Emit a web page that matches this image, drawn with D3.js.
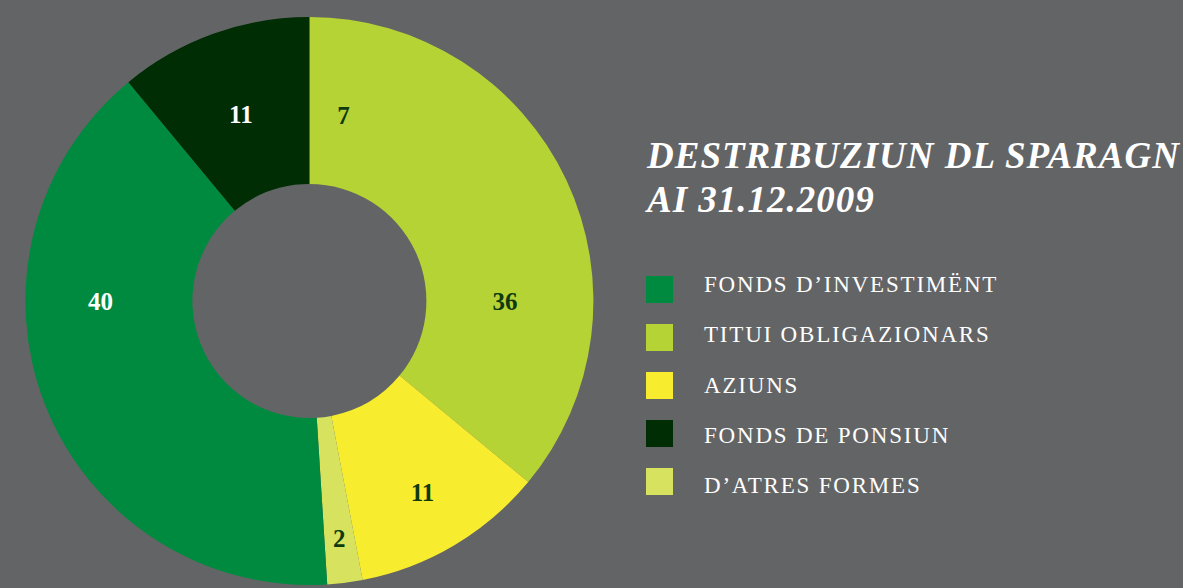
<!DOCTYPE html>
<html>
<head>
<meta charset="utf-8">
<script src="https://cdn.jsdelivr.net/npm/d3@7"></script>
<style>
  html, body { margin: 0; padding: 0; background: #636466; }
  svg { display: block; }
</style>
</head>
<body>
<svg id="chart" width="1183" height="588"></svg>
<script>
// ---- data ----
const categories = ["TITUI OBLIGAZIONARS", "AZIUNS", "D’ATRES FORMES", "FONDS D’INVESTIMËNT", "FONDS DE PONSIUN"];
const values = [36, 11, 2, 40, 11];
const sliceColors = ["#b6d335", "#f8ec2f", "#d7e35e", "#008a3f", "#002d04"];
const legendOrder = ["FONDS D’INVESTIMËNT", "TITUI OBLIGAZIONARS", "AZIUNS", "FONDS DE PONSIUN", "D’ATRES FORMES"];
const titleLines = ["DESTRIBUZIUN DL SPARAGN", "AI 31.12.2009"];
// printed labels (text, position along the ring in % of total, white or dark)
const labelTexts = ["7", "36", "11", "2", "40", "11"];
const labelAtPercent = [2.9, 25, 41.5, 48, 75, 94.4];
const labelRingFrac = [0.43, 0.47, 0.63, 0.73, 0.55, 0.49];
const labelLight = [false, false, false, false, true, true];

// ---- layout ----
const svg = d3.select("#chart");
const cx = 309.4, cy = 301, outerR = 284, innerR = 117;

const color = d3.scaleOrdinal().domain(categories).range(sliceColors);
const pie = d3.pie().sort(null).value(d => d.v);
const arc = d3.arc().innerRadius(innerR).outerRadius(outerR);
const data = categories.map((c, i) => ({ c, v: values[i] }));

const g = svg.append("g").attr("transform", `translate(${cx},${cy})`);
g.selectAll("path.slice")
  .data(pie(data))
  .join("path")
  .attr("class", "slice")
  .attr("d", arc)
  .attr("fill", d => color(d.data.c));

const total = d3.sum(values);
const angle = d3.scaleLinear().domain([0, total]).range([0, 2 * Math.PI]);
const ring = d3.scaleLinear().domain([0, 1]).range([innerR, outerR]);

g.selectAll("text.lbl")
  .data(labelTexts.map((t, i) => ({ t, p: labelAtPercent[i], r: labelRingFrac[i], light: labelLight[i] })))
  .join("text")
  .attr("class", "lbl")
  .attr("x", d => ring(d.r) * Math.sin(angle(d.p)))
  .attr("y", d => -ring(d.r) * Math.cos(angle(d.p)))
  .attr("dy", "0.35em")
  .attr("text-anchor", "middle")
  .attr("font-family", "'Liberation Serif', 'DejaVu Serif', serif")
  .attr("font-weight", "bold")
  .attr("font-size", 25)
  .attr("fill", d => d.light ? "#ffffff" : "#0e3a0e")
  .text(d => d.t);

// ---- title ----
svg.selectAll("text.title")
  .data(titleLines)
  .join("text")
  .attr("class", "title")
  .attr("x", 647)
  .attr("y", (d, i) => 168 + i * 44)
  .attr("font-family", "'Liberation Serif', serif")
  .attr("font-weight", "bold")
  .attr("font-style", "italic")
  .attr("font-size", 37)
  .attr("letter-spacing", 1)
  .attr("fill", "#ffffff")
  .text(d => d);

// ---- legend ----
const boxY = d3.scalePoint().domain(legendOrder).range([289.5, 481.5]);
const textY = d3.scalePoint().domain(legendOrder).range([292, 493]);
svg.selectAll("rect.leg")
  .data(legendOrder)
  .join("rect")
  .attr("class", "leg")
  .attr("x", 646).attr("y", d => boxY(d) - 13.5)
  .attr("width", 27).attr("height", 27)
  .attr("fill", d => color(d));
svg.selectAll("text.leg")
  .data(legendOrder)
  .join("text")
  .attr("class", "leg")
  .attr("x", 704)
  .attr("y", d => textY(d))
  .attr("font-family", "'Liberation Serif', serif")
  .attr("font-size", 23)
  .attr("letter-spacing", 1.8)
  .attr("fill", "#ffffff")
  .text(d => d);
</script>
</body>
</html>
